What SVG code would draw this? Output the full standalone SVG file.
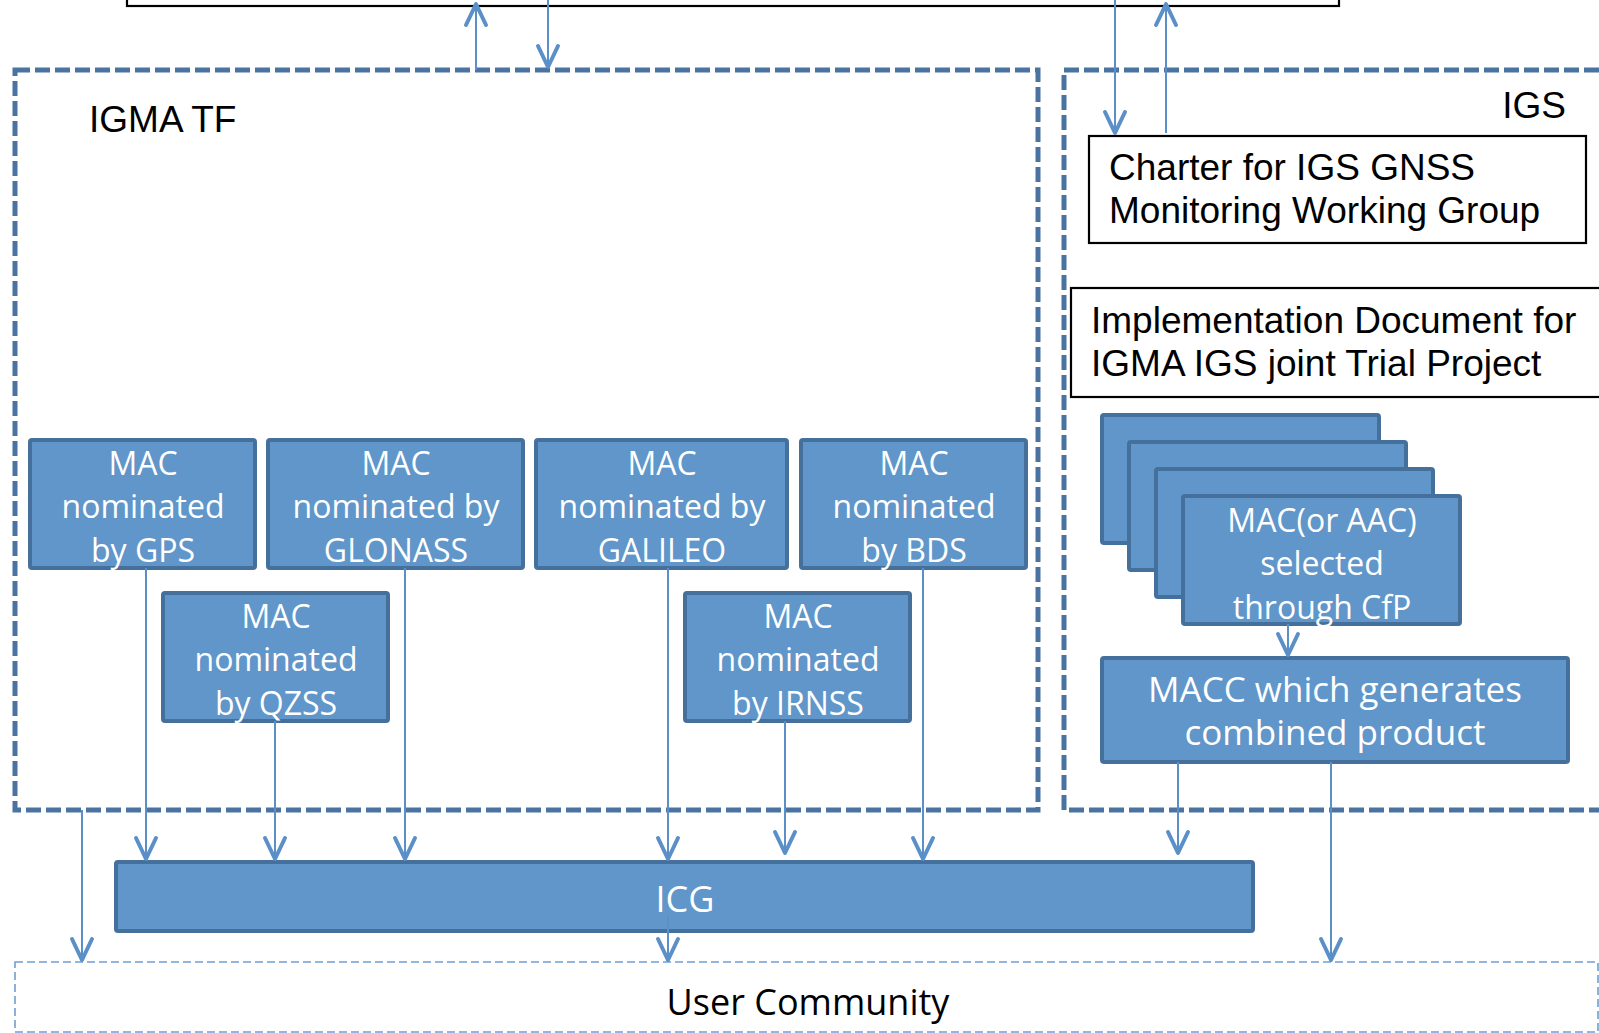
<svg xmlns="http://www.w3.org/2000/svg" width="1599" height="1033" viewBox="0 0 1599 1033">
<style>
.bg{fill:#ffffff}
.grp{fill:none;stroke:#4a73a1;stroke-width:5;stroke-dasharray:15 5}
.user{fill:none;stroke:#6f9fd2;stroke-width:1.6;stroke-dasharray:8 4}
.doc{fill:#ffffff;stroke:#000000;stroke-width:2.2}
.blue{fill:#6096c9;stroke:#46709c;stroke-width:4}
.wt{font-family:"Open Sans","Noto Sans",sans-serif;font-size:32px;fill:#ffffff;text-anchor:middle}
.bt{font-family:"Liberation Sans",Arial,sans-serif;font-size:37px;fill:#000000}
.con{fill:none;stroke:#5b8fc8;stroke-width:2}
</style>
<defs>
<marker id="ah" markerUnits="userSpaceOnUse" orient="auto" overflow="visible" refX="0" refY="0" markerWidth="30" markerHeight="30">
<path d="M-21,-10 L0,0 L-21,10" fill="none" stroke="#5b8fc8" stroke-width="4" stroke-linecap="round" stroke-linejoin="round"/>
</marker>
</defs>
<rect class="bg" x="0" y="0" width="1599" height="1033"/>

<g id="top-box"><rect class="doc" x="127" y="-10" width="1212" height="16"/></g>

<g id="igma-tf">
<rect class="grp" x="15" y="70" width="1023" height="740"/>
<text class="bt" x="89" y="132">IGMA TF</text>
</g>

<g id="igs">
<rect class="grp" x="1064" y="70" width="540" height="740"/>
<text class="bt" x="1566" y="118" text-anchor="end">IGS</text>
</g>

<g id="charter">
<rect class="doc" x="1089" y="136" width="497" height="107"/>
<text class="bt" x="1109" y="180">Charter for IGS GNSS</text>
<text class="bt" x="1109" y="223">Monitoring Working Group</text>
</g>

<g id="impl-doc">
<rect class="doc" x="1071" y="288" width="535" height="109"/>
<text class="bt" x="1091" y="333">Implementation Document for</text>
<text class="bt" x="1091" y="376">IGMA IGS joint Trial Project</text>
</g>

<g id="mac-stack">
<rect class="blue" x="1102" y="415" width="277" height="128" rx="2"/>
<rect class="blue" x="1129" y="442" width="277" height="128" rx="2"/>
<rect class="blue" x="1156" y="469" width="277" height="128" rx="2"/>
<rect class="blue" x="1183" y="496" width="277" height="128" rx="2"/>
<text class="wt" x="1322" y="532">MAC(or AAC)</text>
<text class="wt" x="1322" y="575">selected</text>
<text class="wt" x="1322" y="619">through CfP</text>
</g>

<g id="macc">
<rect class="blue" x="1102" y="658" width="466" height="104" rx="2"/>
<text class="wt" x="1335" y="702" style="font-size:35px">MACC which generates</text>
<text class="wt" x="1335" y="745" style="font-size:35px">combined product</text>
</g>

<g id="mac-gps">
<rect class="blue" x="30" y="440" width="225" height="128" rx="2"/>
<text class="wt" x="143" y="475">MAC</text>
<text class="wt" x="143" y="518">nominated</text>
<text class="wt" x="143" y="562">by GPS</text>
</g>
<g id="mac-glonass">
<rect class="blue" x="268" y="440" width="255" height="128" rx="2"/>
<text class="wt" x="396" y="475">MAC</text>
<text class="wt" x="396" y="518">nominated by</text>
<text class="wt" x="396" y="562">GLONASS</text>
</g>
<g id="mac-galileo">
<rect class="blue" x="536" y="440" width="251" height="128" rx="2"/>
<text class="wt" x="662" y="475">MAC</text>
<text class="wt" x="662" y="518">nominated by</text>
<text class="wt" x="662" y="562">GALILEO</text>
</g>
<g id="mac-bds">
<rect class="blue" x="801" y="440" width="225" height="128" rx="2"/>
<text class="wt" x="914" y="475">MAC</text>
<text class="wt" x="914" y="518">nominated</text>
<text class="wt" x="914" y="562">by BDS</text>
</g>
<g id="mac-qzss">
<rect class="blue" x="163" y="593" width="225" height="128" rx="2"/>
<text class="wt" x="276" y="628">MAC</text>
<text class="wt" x="276" y="671">nominated</text>
<text class="wt" x="276" y="715">by QZSS</text>
</g>
<g id="mac-irnss">
<rect class="blue" x="685" y="593" width="225" height="128" rx="2"/>
<text class="wt" x="798" y="628">MAC</text>
<text class="wt" x="798" y="671">nominated</text>
<text class="wt" x="798" y="715">by IRNSS</text>
</g>

<g id="icg">
<rect class="blue" x="116" y="862" width="1137" height="69" rx="2"/>
<text class="wt" x="685" y="912" style="font-size:36px">ICG</text>
</g>

<g id="user-community">
<rect class="user" x="15" y="962" width="1583" height="70"/>
<text class="wt" x="808" y="1015" style="font-size:36px;fill:#000000">User Community</text>
</g>

<g id="connectors">
<line class="con" x1="476" y1="70" x2="476" y2="4" marker-end="url(#ah)"/>
<line class="con" x1="548" y1="0" x2="548" y2="67" marker-end="url(#ah)"/>
<line class="con" x1="1115" y1="0" x2="1115" y2="133" marker-end="url(#ah)"/>
<line class="con" x1="1166" y1="133" x2="1166" y2="4" marker-end="url(#ah)"/>
<line class="con" x1="146" y1="568" x2="146" y2="859" marker-end="url(#ah)"/>
<line class="con" x1="275" y1="721" x2="275" y2="859" marker-end="url(#ah)"/>
<line class="con" x1="405" y1="568" x2="405" y2="859" marker-end="url(#ah)"/>
<line class="con" x1="668" y1="568" x2="668" y2="859" marker-end="url(#ah)"/>
<line class="con" x1="785" y1="721" x2="785" y2="853" marker-end="url(#ah)"/>
<line class="con" x1="923" y1="568" x2="923" y2="859" marker-end="url(#ah)"/>
<line class="con" x1="1288" y1="624" x2="1288" y2="655" marker-end="url(#ah)"/>
<line class="con" x1="1178" y1="762" x2="1178" y2="853" marker-end="url(#ah)"/>
<line class="con" x1="1331" y1="762" x2="1331" y2="960" marker-end="url(#ah)"/>
<line class="con" x1="82" y1="810" x2="82" y2="960" marker-end="url(#ah)"/>
<line class="con" x1="668" y1="915" x2="668" y2="960" marker-end="url(#ah)"/>
</g>
</svg>
